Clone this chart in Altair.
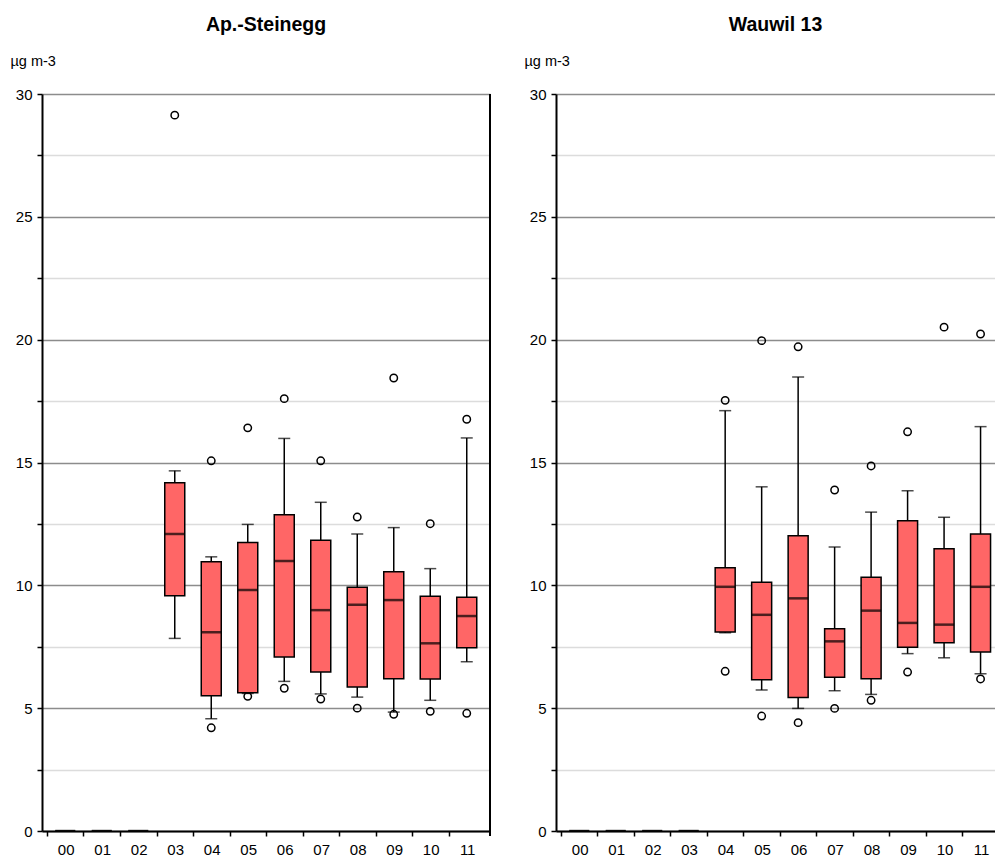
import altair as alt
import pandas as pd

# Measurement years (20xx) on the category axis
years = ["00", "01", "02", "03", "04", "05", "06", "07", "08", "09", "10", "11"]

# Ap.-Steinegg: whisker ends, quartiles and medians per year (µg m-3)
st_lo = [0, 0, 0, 7.84, 4.57, 5.60, 6.09, 5.58, 5.45, 4.84, 5.32, 6.89]
st_q1 = [0, 0, 0, 9.58, 5.51, 5.63, 7.08, 6.47, 5.86, 6.20, 6.19, 7.46]
st_med = [0, 0, 0, 12.09, 8.09, 9.81, 10.99, 8.99, 9.21, 9.40, 7.64, 8.75]
st_q3 = [0, 0, 0, 14.18, 10.96, 11.74, 12.87, 11.84, 9.92, 10.55, 9.56, 9.51]
st_hi = [0, 0, 0, 14.66, 11.16, 12.48, 15.98, 13.38, 12.09, 12.35, 10.68, 16.00]
st_out_year = ["03", "04", "04", "05", "05", "06", "06", "07", "07",
               "08", "08", "09", "09", "10", "10", "11", "11"]
st_out_val = [29.14, 15.07, 4.20, 16.41, 5.48, 17.60, 5.81, 15.07, 5.37,
              12.78, 5.00, 18.44, 4.75, 12.51, 4.87, 16.76, 4.79]

# Wauwil 13
wa_lo = [0, 0, 0, 0, 8.07, 5.74, 4.99, 5.71, 5.56, 7.22, 7.05, 6.40]
wa_q1 = [0, 0, 0, 0, 8.10, 6.16, 5.43, 6.26, 6.20, 7.48, 7.66, 7.29]
wa_med = [0, 0, 0, 0, 9.94, 8.80, 9.47, 7.72, 8.97, 8.47, 8.40, 9.94]
wa_q3 = [0, 0, 0, 0, 10.72, 10.13, 12.02, 8.23, 10.33, 12.63, 11.49, 12.09]
wa_hi = [0, 0, 0, 0, 17.11, 14.01, 18.48, 11.56, 12.98, 13.85, 12.77, 16.46]
wa_out_year = ["04", "04", "05", "05", "06", "06", "07", "07",
               "08", "08", "09", "09", "10", "11", "11"]
wa_out_val = [17.53, 6.50, 19.96, 4.68, 19.71, 4.41, 13.88, 4.99,
              14.86, 5.32, 16.25, 6.47, 20.51, 20.23, 6.19]

y_ticks = [i * 2.5 for i in range(13)]
x_ticks = [i - 0.5 for i in range(12)]   # left boundary of each year
BAND = 448 / 12                           # pixels per year
H = 737
FONT = "Liberation Sans"


def x_enc(x_max):
    return alt.X(
        "idx:Q",
        scale=alt.Scale(domain=[-0.5, x_max], nice=False, zero=False),
        axis=alt.Axis(
            title=None, values=x_ticks,
            labelExpr="format(datum.value + 0.5, '02d')",
            labelOffset=BAND / 2, labelFlush=False, labelOverlap=False,
            labelAngle=0, grid=False, domainColor="black", domainWidth=2,
            tickColor="black", tickWidth=1.5, tickSize=5,
            labelFontSize=15, labelPadding=6, labelColor="black", labelFont=FONT,
        ),
    )


def y_enc(field):
    return alt.Y(
        f"{field}:Q",
        scale=alt.Scale(domain=[0, 30], nice=False, zero=True),
        axis=alt.Axis(
            values=y_ticks,
            labelExpr="datum.value % 5 === 0 ? datum.label : ''",
            grid=True,
            gridColor=alt.condition("datum.value % 5 === 0",
                                    alt.value("#8c8c8c"), alt.value("#dcdcdc")),
            gridWidth=1.5,
            domainColor="black", domainWidth=2, tickColor="black",
            tickWidth=1.5, tickSize=5, labelFontSize=15, labelPadding=5,
            labelColor="black", labelFont=FONT,
            title="µg m-3", titleAngle=0, titleAlign="left",
            titleBaseline="alphabetic", titleX=-32, titleY=-29,
            titleFontSize=14.5, titleFontWeight="normal", titleFont=FONT,
            titleColor="black",
        ),
    )


def panel(name, lo, q1, med, q3, hi, out_year, out_val, width, border):
    idx = list(range(len(years)))
    box = pd.DataFrame({"idx": idx, "year": years, "lo": lo, "q1": q1,
                        "med": med, "q3": q3, "hi": hi})
    with_data = box[box["hi"] > 0]
    out = pd.DataFrame({"idx": [years.index(y) for y in out_year],
                        "val": out_val})
    x_max = -0.5 + width / BAND
    X = x_enc(x_max)

    whisker = alt.Chart(with_data).mark_rule(
        color="black", strokeWidth=1.5, clip=True
    ).encode(x=X, y=y_enc("lo"), y2="hi:Q")

    cap_lo = alt.Chart(with_data).mark_tick(
        color="black", size=12, thickness=1.5, orient="horizontal", clip=True
    ).encode(x=X, y=y_enc("lo"))

    cap_hi = alt.Chart(with_data).mark_tick(
        color="black", size=12, thickness=1.5, orient="horizontal", clip=True
    ).encode(x=X, y=y_enc("hi"))

    bars = alt.Chart(box).mark_bar(
        size=20, color="#ff6666", stroke="black", strokeWidth=1.5, clip=True
    ).encode(x=X, y=y_enc("q1"), y2="q3:Q")

    median = alt.Chart(box).mark_tick(
        color="black", size=20, thickness=2.5, orient="horizontal", clip=True
    ).encode(x=X, y=y_enc("med"))

    points = alt.Chart(out).mark_point(
        shape="circle", filled=False, color="black", strokeWidth=1.5,
        size=55, opacity=1, clip=True
    ).encode(x=X, y=y_enc("val"))

    layers = [whisker, cap_lo, cap_hi, bars, median, points]
    if border:
        # right frame line, reaching down to form the last x tick
        layers.append(
            alt.Chart(pd.DataFrame({"k": [0]})).mark_rule(
                color="black", strokeWidth=2
            ).encode(x=alt.value(width), y=alt.value(0), y2=alt.value(H + 5))
        )

    return alt.layer(*layers).properties(
        width=width, height=H,
        title=alt.TitleParams(name, fontSize=19.5, fontWeight="bold", font=FONT,
                              color="black", anchor="middle", frame="group",
                              offset=18),
    )


left = panel("Ap.-Steinegg", st_lo, st_q1, st_med, st_q3, st_hi,
             st_out_year, st_out_val, width=448, border=True)
# the right-hand panel runs past the page edge; only its first 439 px show
right = panel("Wauwil 13", wa_lo, wa_q1, wa_med, wa_q3, wa_hi,
              wa_out_year, wa_out_val, width=439, border=False)

chart = alt.hconcat(left, right, spacing=33).properties(
    padding={"left": 10, "top": 14, "right": 0, "bottom": 0},
    background="white",
).configure_view(stroke=None)

chart.save("out.html", embed_options={"renderer": "svg", "actions": False})
